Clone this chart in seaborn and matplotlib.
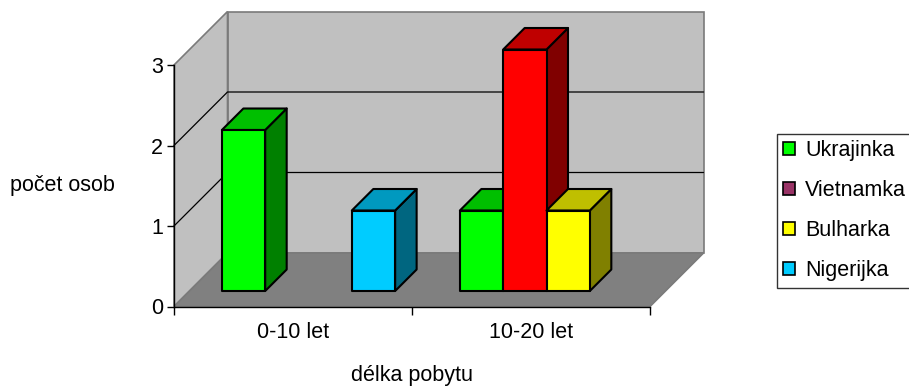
import numpy as np
import pandas as pd
import seaborn as sns
import matplotlib.pyplot as plt
from matplotlib.patches import Polygon, Patch, Rectangle
from matplotlib.transforms import ScaledTranslation
from matplotlib.colors import to_rgb

# ---- data -------------------------------------------------------------
categories = ["0-10 let", "10-20 let"]
series = ["Ukrajinka", "Vietnamka", "Bulharka", "Nigerijka"]
ukrajinka = [2, 1]
vietnamka = [0, 3]
bulharka = [0, 1]
nigerijka = [1, 0]

bar_colors = ["#00FF00", "#FF0000", "#FFFF00", "#00CCFF"]
legend_colors = ["#00FF00", "#993366", "#FFFF00", "#00CCFF"]

rows = []
for name, vals in zip(series, [ukrajinka, vietnamka, bulharka, nigerijka]):
    for cat, v in zip(categories, vals):
        rows.append({"délka pobytu": cat, "počet osob": v, "národnost": name})
df = pd.DataFrame(rows)

# ---- figure / axes geometry (pixels, 100 dpi) -------------------------
W, H, DPI = 909, 387, 100
sns.set_theme(style="white")
plt.rcParams["font.family"] = ["Liberation Sans", "DejaVu Sans"]
plt.rcParams.update({"text.color": "black", "axes.labelcolor": "black",
                     "xtick.color": "black", "ytick.color": "black"})
FS = 15.5

fig = plt.figure(figsize=(W / DPI, H / DPI), dpi=DPI)
ax_left, ax_right = 174, 702      # front axis origin .. back wall right
ax_top, ax_bottom = 12, 306.5     # back wall top .. front axis zero
ax = fig.add_axes([ax_left / W, 1 - ax_bottom / H,
                   (ax_right - ax_left) / W, (ax_bottom - ax_top) / H])

front_w = 476                     # width of front plane in px (two categories)
px_x = front_w / len(categories)  # px per category unit
ymax = 3
px_y = 80.5                       # px per value unit

WALL_DEPTH = 53.5                 # px
BAR_SHIFT = 15.5                  # px, bars stand inside the box
BAR_DEPTH = 21.5                  # px
DX, DY = WALL_DEPTH / px_x, WALL_DEPTH / px_y
x0, x1 = -0.5, len(categories) - 0.5

# ---- bars (front faces) -----------------------------------------------
sns.barplot(data=df, x="délka pobytu", y="počet osob", hue="národnost",
            hue_order=series, order=categories, palette=bar_colors,
            saturation=1, width=0.728, dodge=True, edgecolor="black",
            linewidth=1.5, legend=False, ax=ax, errorbar=None)
bar_patches = [p for p in ax.patches if isinstance(p, Rectangle)]

ax.set_xlim(-0.5, -0.5 + (ax_right - ax_left) / px_x)
ax.set_ylim(0, (ax_bottom - ax_top) / px_y)

# ---- walls and floor ---------------------------------------------------
wall_c, floor_c, edge_c = "#C0C0C0", "#808080", "#7A7A7A"
ax.add_patch(Polygon([(x0 + DX, DY), (x1 + DX, DY), (x1 + DX, ymax + DY), (x0 + DX, ymax + DY)],
                     closed=True, facecolor=wall_c, edgecolor=edge_c, lw=1.2, zorder=0.5, clip_on=False))
ax.add_patch(Polygon([(x0, 0), (x0 + DX, DY), (x0 + DX, ymax + DY), (x0, ymax)],
                     closed=True, facecolor=wall_c, edgecolor=edge_c, lw=1.2, zorder=0.5, clip_on=False))
ax.add_patch(Polygon([(x0, 0), (x1, 0), (x1 + DX, DY), (x0 + DX, DY)],
                     closed=True, facecolor=floor_c, edgecolor=edge_c, lw=1.2, zorder=0.6, clip_on=False))
for v in range(1, ymax):
    ax.plot([x0, x0 + DX, x1 + DX], [v, v + DY, v + DY], color="black", lw=0.9,
            zorder=0.7, clip_on=False)

# ---- 3D sides and tops of the bars ------------------------------------
shift = ScaledTranslation(BAR_SHIFT / DPI, BAR_SHIFT / DPI, fig.dpi_scale_trans)
tr = ax.transData + shift
bdx, bdy = BAR_DEPTH / px_x, BAR_DEPTH / px_y


def shade(c, f):
    r, g, b = to_rgb(c)
    return (r * f, g * f, b * f)


bars = []
for p in bar_patches:
    if p.get_height() > 0 and p.get_width() > 0:
        bars.append(p)
    else:
        p.set_visible(False)
bars.sort(key=lambda p: p.get_x())
for i, p in enumerate(bars):
    xa, w, h = p.get_x(), p.get_width(), p.get_height()
    xb = xa + w
    fc = p.get_facecolor()
    z = 2 + i * 0.1
    ax.add_patch(Polygon([(xb, 0), (xb + bdx, bdy), (xb + bdx, h + bdy), (xb, h)],
                         closed=True, facecolor=shade(fc, 0.5), edgecolor="black",
                         lw=1.5, transform=tr, zorder=z, clip_on=False, joinstyle="round"))
    ax.add_patch(Polygon([(xa, h), (xb, h), (xb + bdx, h + bdy), (xa + bdx, h + bdy)],
                         closed=True, facecolor=shade(fc, 0.75), edgecolor="black",
                         lw=1.5, transform=tr, zorder=z + 0.01, clip_on=False, joinstyle="round"))
    p.set_transform(tr)
    p.set_zorder(z + 0.02)
    p.set_clip_on(False)
    p.set_joinstyle("round")

# ---- axes decoration ---------------------------------------------------
for s in ["top", "right"]:
    ax.spines[s].set_visible(False)
ax.spines["left"].set_bounds(0, ymax)
ax.spines["bottom"].set_bounds(x0, x1)
for s in ["left", "bottom"]:
    ax.spines[s].set_color("black")
    ax.spines[s].set_linewidth(1.0)
    ax.spines[s].set_zorder(1)

ax.set_yticks(range(0, ymax + 1))
ax.tick_params(axis="y", length=5, width=1, color="black", direction="out",
               labelsize=FS, pad=3, left=True, labelcolor="black")
ax.set_xticks(range(len(categories)))
ax.set_xticklabels(categories)
ax.set_xticks(np.arange(x0, x1 + 0.01, 1.0), minor=True)
ax.tick_params(axis="x", which="major", length=0, labelsize=FS, pad=11, labelcolor="black")
ax.tick_params(axis="x", which="minor", length=6, width=1, color="black",
               direction="out", bottom=True)
ax.set_xlabel("")
ax.set_ylabel("")
ax.patch.set_visible(False)

fig.text(10 / W, 1 - 186 / H, "počet osob", ha="left", va="center",
         fontsize=FS, color="black")
fig.text(412 / W, 1 - 376 / H, "délka pobytu", ha="center", va="center",
         fontsize=FS, color="black")

handles = [Patch(facecolor=c, edgecolor="black", lw=1.2) for c in legend_colors]
leg = fig.legend(handles, series, loc="upper left",
                 bbox_to_anchor=(777 / W, 1 - 134 / H), borderaxespad=0,
                 fontsize=FS, frameon=True, fancybox=False,
                 handlelength=0.55, handleheight=0.55, handletextpad=0.45,
                 labelspacing=0.88, borderpad=0.3, labelcolor="black")
leg.get_frame().set_edgecolor("black")
leg.get_frame().set_linewidth(1.0)

fig.savefig("out.png", dpi=DPI, facecolor="white")
